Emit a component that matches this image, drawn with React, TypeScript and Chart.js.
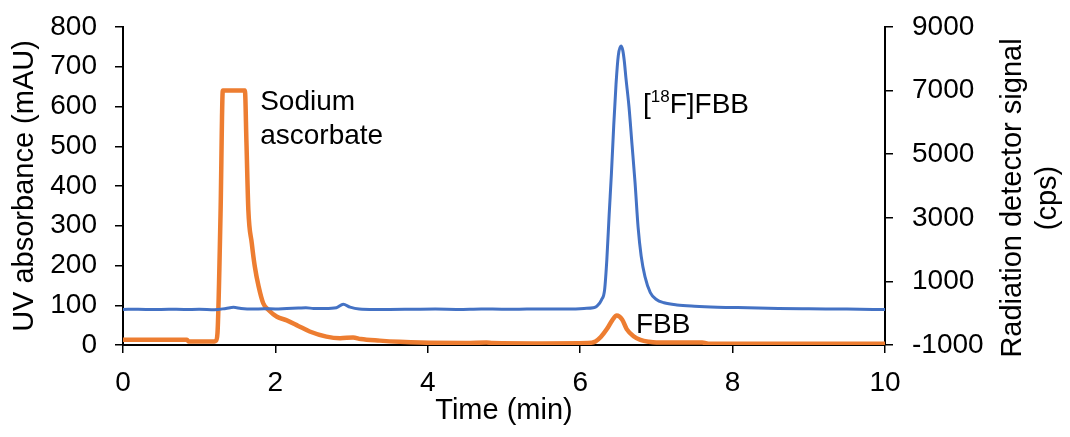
import React, { useEffect, useRef } from 'react';
import { Chart, registerables } from 'chart.js';

Chart.register(...registerables);

const FONT = '"Liberation Sans", Arial, sans-serif';

// UV absorbance trace (mAU), left axis
const uvTime = [0, 0.84, 0.86, 1.2, 1.22, 1.24, 1.28, 1.31, 1.45, 1.6, 1.62, 1.645, 1.69, 1.73, 1.78, 1.84, 1.91, 2.02, 2.15, 2.3, 2.45, 2.67, 2.85, 3.02, 3.12, 3.37, 3.63, 3.9, 4.5, 4.77, 4.85, 5.5, 6.1, 6.2, 6.27, 6.35, 6.42, 6.48, 6.55, 6.61, 6.7, 6.79, 6.9, 7.0, 7.6, 7.7, 10];
const uvValue = [13, 13, 9, 9, 11, 30, 330, 640, 640, 640, 510, 340, 256, 197, 147, 105, 88, 71, 62, 48, 34, 21, 17, 19, 15, 11, 8, 6, 5, 6, 5, 4, 5, 9, 20, 40, 62, 74, 64, 40, 22, 13, 8, 6, 6, 3, 3];

// Radiation detector trace (cps), right axis
const radTime = [0, 0.2, 0.4, 0.6, 0.8, 1.0, 1.2, 1.35, 1.45, 1.55, 1.7, 1.85, 2.0, 2.15, 2.3, 2.4, 2.5, 2.65, 2.8, 2.89, 2.98, 3.1, 3.3, 3.5, 3.8, 4.1, 4.4, 4.7, 5.0, 5.3, 5.6, 5.9, 6.05, 6.17, 6.22, 6.28, 6.32, 6.35, 6.38, 6.41, 6.44, 6.47, 6.5, 6.535, 6.56, 6.58, 6.6, 6.64, 6.68, 6.72, 6.76, 6.8, 6.85, 6.92, 7.0, 7.1, 7.27, 7.5, 7.8, 8.2, 8.6, 9.0, 9.5, 10];
const radValue = [120, 125, 115, 125, 118, 122, 110, 150, 185, 150, 130, 140, 135, 150, 160, 170, 150, 145, 170, 280, 190, 130, 115, 120, 125, 130, 120, 135, 125, 130, 135, 130, 150, 170, 220, 420, 730, 1700, 3100, 4400, 5900, 7200, 8100, 8400, 8250, 7900, 7400, 6500, 5300, 4100, 2700, 1800, 1150, 650, 430, 330, 260, 220, 190, 170, 150, 140, 130, 115];

// Axis ranges and tick steps
const xRange = [0, 10];
const xStep = 2;
const uvRange = [0, 800];
const uvStep = 100;
const radRange = [-1000, 9000];
const radStep = 2000;

const annotationPlugin = {
  id: 'chartAnnotations',
  afterDraw(chart: any) {
    const { ctx, chartArea, scales } = chart;
    const x = scales.x;
    const y = scales.y;
    ctx.save();
    ctx.fillStyle = '#000';
    ctx.textAlign = 'left';
    ctx.textBaseline = 'alphabetic';
    ctx.font = `28px ${FONT}`;
    ctx.fillText('Sodium', x.getPixelForValue(1.8), y.getPixelForValue(591));
    ctx.fillText('ascorbate', x.getPixelForValue(1.8), y.getPixelForValue(506));

    let px = x.getPixelForValue(6.824);
    const py = y.getPixelForValue(584);
    ctx.fillText('[', px, py);
    px += ctx.measureText('[').width;
    ctx.font = `17px ${FONT}`;
    ctx.fillText('18', px, py - 11);
    px += ctx.measureText('18').width;
    ctx.font = `28px ${FONT}`;
    ctx.fillText('F]FBB', px, py);

    ctx.fillText('FBB', x.getPixelForValue(6.732), y.getPixelForValue(30));

    ctx.translate(chartArea.right + 128, (chartArea.top + chartArea.bottom) / 2 + 12);
    ctx.rotate(-Math.PI / 2);
    ctx.textAlign = 'center';
    ctx.textBaseline = 'middle';
    ctx.font = `29px ${FONT}`;
    ctx.fillText('Radiation detector signal', 0, 0);
    ctx.fillText('(cps)', 0, 35);
    ctx.restore();
  },
};

export default function App() {
  const ref = useRef<HTMLCanvasElement | null>(null);
  useEffect(() => {
    if (!ref.current) return;
    const uvData = uvTime.map((t, i) => ({ x: t, y: uvValue[i] }));
    const radData = radTime.map((t, i) => ({ x: t, y: radValue[i] }));
    const tickFont = { family: FONT, size: 28 };
    const titleFont = { family: FONT, size: 29 };
    const grid = {
      display: true,
      drawOnChartArea: false,
      drawTicks: true,
      tickLength: 8,
      color: '#000',
      lineWidth: 1.5,
    };
    const border = { display: true, color: '#000', width: 2 };
    const fitVertical = (w: number) => (s: any) => {
      s.width = w;
      s.paddingTop = 0;
      s.paddingBottom = 0;
    };
    const chart = new Chart(ref.current, {
      type: 'line',
      data: {
        datasets: [
          {
            label: 'Radiation',
            data: radData,
            yAxisID: 'y1',
            borderColor: '#4472C4',
            borderWidth: 3,
            pointRadius: 0,
            cubicInterpolationMode: 'monotone',
            fill: false,
          },
          {
            label: 'UV',
            data: uvData,
            yAxisID: 'y',
            borderColor: '#ED7D31',
            borderWidth: 4.5,
            pointRadius: 0,
            cubicInterpolationMode: 'monotone',
            fill: false,
          },
        ],
      },
      options: {
        animation: false,
        responsive: true,
        maintainAspectRatio: false,
        layout: { padding: { top: 19, left: 0, right: 0, bottom: 0 } },
        plugins: { legend: { display: false }, tooltip: { enabled: false } },
        scales: {
          x: {
            type: 'linear',
            min: xRange[0],
            max: xRange[1],
            ticks: { stepSize: xStep, color: '#000', font: tickFont, padding: 13, maxRotation: 0 },
            grid,
            border,
            title: { display: true, text: 'Time (min)', color: '#000', font: titleFont, padding: { top: 0, bottom: 1 } },
            afterFit: (s: any) => { s.height = 84; s.paddingLeft = 0; s.paddingRight = 0; },
          },
          y: {
            type: 'linear',
            position: 'left',
            min: uvRange[0],
            max: uvRange[1],
            ticks: { stepSize: uvStep, color: '#000', font: tickFont, padding: 18 },
            grid,
            border,
            title: { display: true, text: 'UV absorbance (mAU)', color: '#000', font: titleFont, padding: { top: 0, bottom: 0 } },
            afterFit: fitVertical(115),
          },
          y1: {
            type: 'linear',
            position: 'right',
            min: radRange[0],
            max: radRange[1],
            ticks: { stepSize: radStep, color: '#000', font: tickFont, padding: 19, callback: (v: any) => String(v) },
            grid,
            border,
            title: { display: false },
            afterFit: fitVertical(177),
          },
        },
      },
      plugins: [annotationPlugin],
    } as any);
    return () => chart.destroy();
  }, []);
  return (
    <div style={{ position: 'relative', width: 1054, height: 421 }}>
      <canvas ref={ref} />
    </div>
  );
}
